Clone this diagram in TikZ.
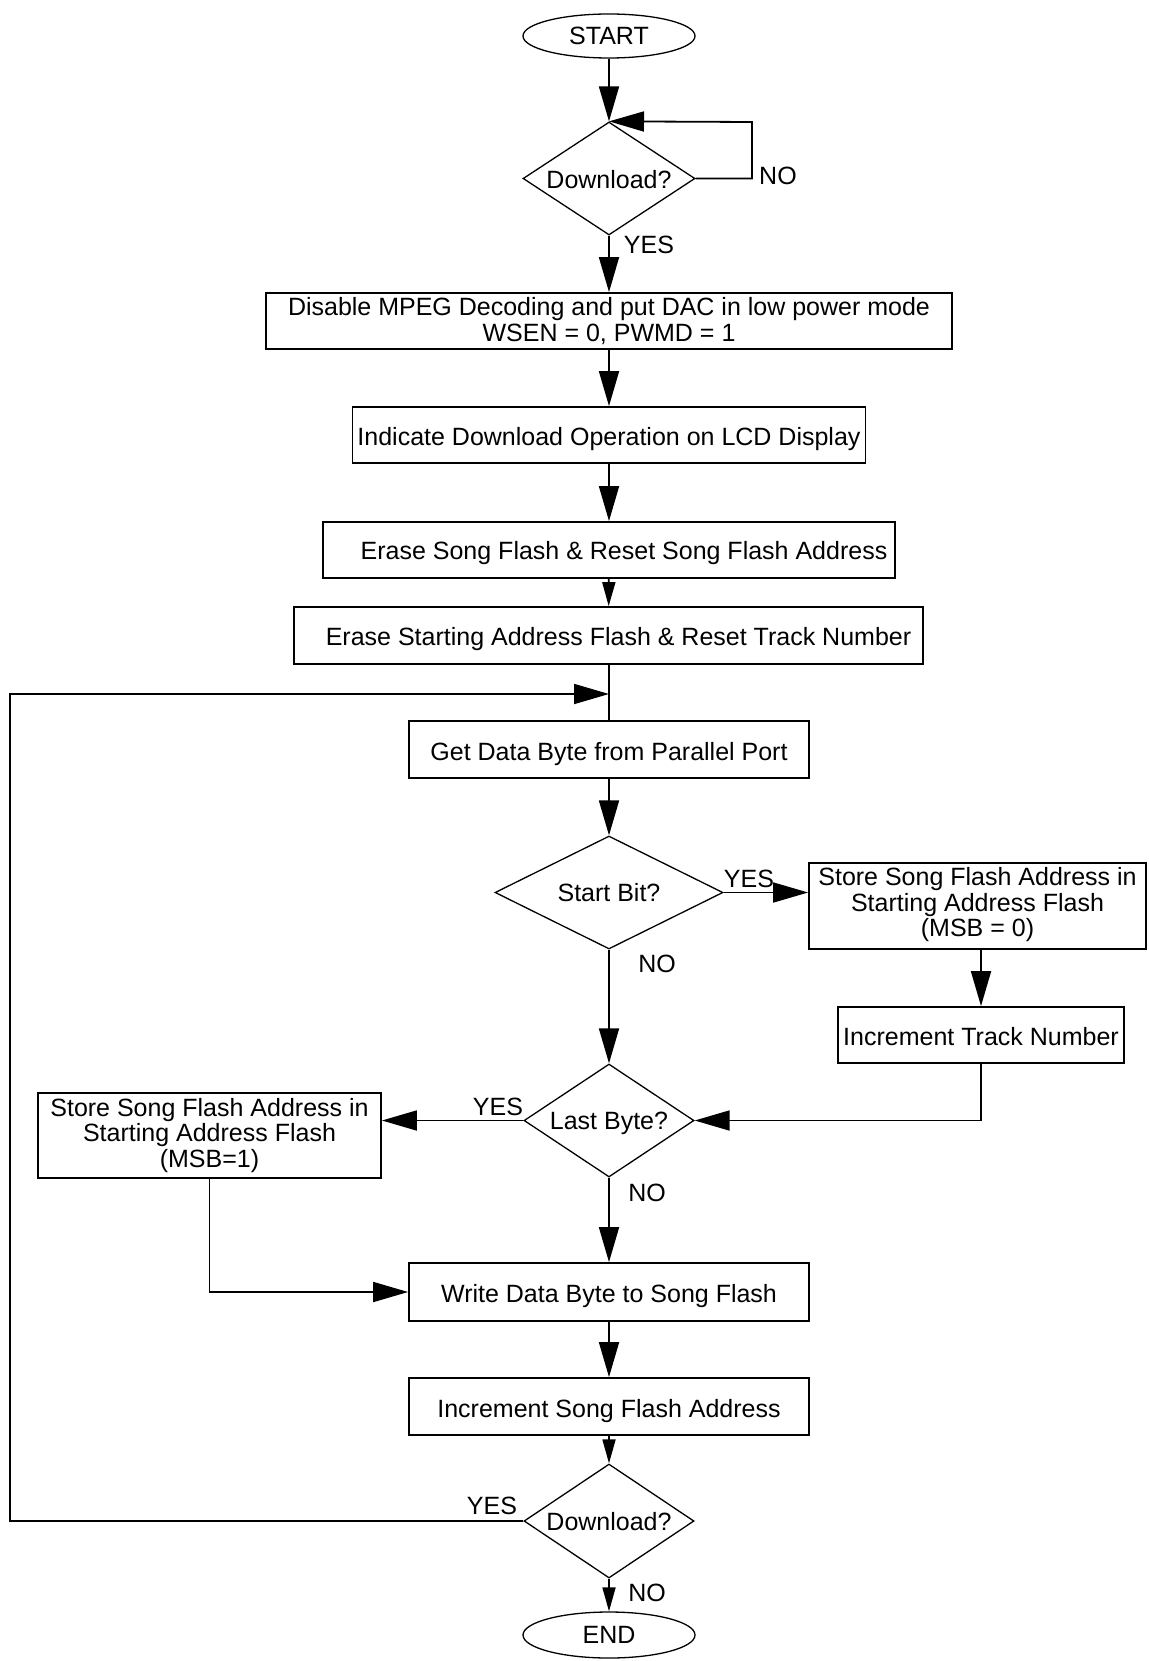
\documentclass[tikz,border=0pt]{standalone}
\usepackage{fontspec}
\setmainfont{Liberation Sans}
\usetikzlibrary{shapes.geometric,arrows.meta}

\begin{document}
\begin{tikzpicture}[x=1pt,y=-1pt,
  font=\fontsize{25}{25.5}\selectfont,
  box/.style={draw,line width=1.8pt,inner sep=0pt,align=center},
  oneline/.style={text height=21pt,text depth=0pt},
  term/.style={draw,ellipse,line width=1.3pt,inner sep=0pt,minimum width=172pt,minimum height=44pt},
  dec/.style={draw,diamond,line width=1.3pt,inner sep=0pt},
  flow/.style={line width=1.8pt,-{Triangle[length=35pt,width=20pt]}},
  flowshort/.style={line width=1.8pt,-{Triangle[length=24pt,width=13pt]}},
  link/.style={line width=1.8pt},
  tag/.style={inner sep=0pt}
]
\useasboundingbox (0,0) rectangle (1148,1661);

% terminals, decisions and process boxes
\node[term] (start) at (609,36) {START};
\node[dec,minimum width=172pt,minimum height=113pt,label={[yshift=-1pt]center:Download?}] (d1) at (609,178.5) {};
\node[box,minimum width=686pt,minimum height=56pt] (b1) at (609,321)
  {Disable MPEG Decoding and put DAC in low power mode\\WSEN = 0, PWMD = 1};
\node[box,oneline,minimum width=513pt,minimum height=56pt] (b2) at (609,435)
  {Indicate Download Operation on LCD Display};
\node[box,minimum width=572pt,minimum height=56pt,
  label={[xshift=15pt,yshift=-3.5pt]center:Erase Song Flash \& Reset Song Flash Address}] (b3) at (609,550) {};
\node[box,minimum width=629pt,minimum height=57pt,
  label={[xshift=10pt,yshift=-4pt]center:Erase Starting Address Flash \& Reset Track Number}] (b4) at (608.5,635.5) {};
\node[box,oneline,minimum width=400pt,minimum height=57pt] (b5) at (609,749.5)
  {Get Data Byte from Parallel Port};
\node[dec,minimum width=228pt,minimum height=113pt,label=center:Start Bit?] (sb) at (609,892.5) {};
\node[box,minimum width=337pt,minimum height=86pt,text depth=8pt] (s1) at (977.5,906)
  {Store Song Flash Address in\\Starting Address Flash\\(MSB = 0)};
\node[box,oneline,minimum width=286pt,minimum height=56pt] (it) at (981,1035)
  {Increment Track Number};
\node[dec,minimum width=170pt,minimum height=113pt,label={[yshift=-3pt]center:Last Byte?}] (lb) at (609,1120.5) {};
\node[box,minimum width=343pt,minimum height=85pt] (s2) at (209.5,1135.5)
  {Store Song Flash Address in\\Starting Address Flash\\(MSB=1)};
\node[box,oneline,minimum width=400pt,minimum height=58pt] (w) at (609,1292)
  {Write Data Byte to Song Flash};
\node[box,oneline,minimum width=400pt,minimum height=57pt] (is) at (609,1406.5)
  {Increment Song Flash Address};
\node[dec,minimum width=170pt,minimum height=114pt,label={[yshift=-1pt]center:Download?}] (d2) at (609,1521) {};
\node[term,minimum height=46pt] (end) at (609,1635) {END};

% branch labels
\node[tag,anchor=west] (l1) at (759,176) {NO};
\node[tag] (l2) at (649,245) {YES};
\node[tag] (l3) at (749,879) {YES};
\node[tag] (l4) at (657,964) {NO};
\node[tag] (l5) at (498,1107) {YES};
\node[tag] (l6) at (647,1193) {NO};
\node[tag] (l7) at (492,1506) {YES};
\node[tag] (l8) at (647,1593) {NO};

% bend points of the loops
\coordinate (loopR) at (752,122);
\coordinate (backL) at (10,694);
\coordinate (merge) at (609,694);

% connectors
\draw[flow] (start) -- (d1.north);
\draw[flow] (d1.east) -| (loopR) -- (d1.north);
\draw[flow] (d1.south) -- (b1.north);
\draw[flow] (b1) -- (b2);
\draw[flow] (b2) -- (b3);
\draw[flowshort] (b3) -- (b4);
\draw[link] (b4.south -| merge) -- (b5.north -| merge);
\draw[flow] (d2.west) -| (backL) -- (merge);
\draw[flow] (b5) -- (sb.north);
\draw[flow] (sb.east) -- (sb.east -| s1.west);
\draw[flow] (sb.south) -- (lb.north);
\draw[flow] (it.north |- s1.south) -- (it.north);
\draw[flow] (it.south) |- (lb.east);
\draw[flow] (lb.west) -- (lb.west -| s2.east);
\draw[flow] (lb.south) -- (w.north);
\draw[flow] (s2.south) |- (w.west);
\draw[flow] (w) -- (is);
\draw[flowshort] (is) -- (d2.north);
\draw[flowshort] (d2.south) -- (end);
\end{tikzpicture}
\end{document}
